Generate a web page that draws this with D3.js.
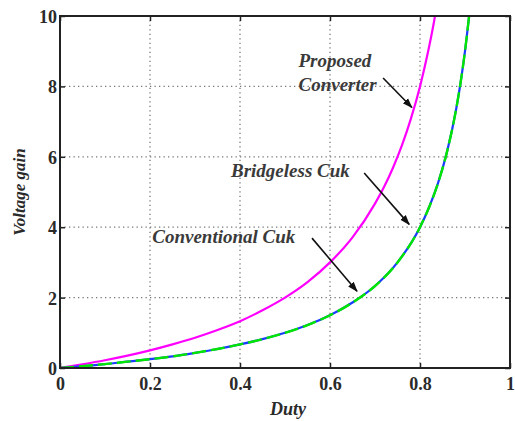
<!DOCTYPE html>
<html>
<head>
<meta charset="utf-8">
<script src="https://cdn.jsdelivr.net/npm/d3@7"></script>
</head>
<body style="margin:0; background:#fff">
<div id="chart"></div>
<script>

// Values
const duty      = [0, 0.05, 0.1, 0.15, 0.2, 0.25, 0.3, 0.35, 0.4, 0.45, 0.5, 0.55, 0.6, 0.65, 0.7, 0.72, 0.74, 0.76, 0.78, 0.8, 0.81, 0.82, 0.83, 0.84];
const proposed  = [0, 0.105, 0.22, 0.35, 0.5, 0.67, 0.86, 1.08, 1.33, 1.64, 2.0, 2.44, 3.0, 3.71, 4.67, 5.14, 5.69, 6.33, 7.09, 8.0, 8.53, 9.11, 9.76, 10.5];

const dutyCuk   = [0, 0.05, 0.1, 0.15, 0.2, 0.25, 0.3, 0.35, 0.4, 0.45, 0.5, 0.55, 0.6, 0.65, 0.7, 0.75, 0.8, 0.82, 0.84, 0.86, 0.88, 0.89, 0.9, 0.91];
const cuk       = [0, 0.053, 0.11, 0.18, 0.25, 0.33, 0.43, 0.54, 0.67, 0.82, 1.0, 1.22, 1.5, 1.86, 2.33, 3.0, 4.0, 4.56, 5.25, 6.14, 7.33, 8.09, 9.0, 10.1];

const xTicks = [0, 0.2, 0.4, 0.6, 0.8, 1];
const yTicks = [0, 2, 4, 6, 8, 10];

const notes = [
  { lines: ['Proposed', 'Converter'], x: 0.53, y: 8.55, from: [0.718, 8.24], to: [0.782, 7.4] },
  { lines: ['Bridgeless Cuk'], x: 0.38, y: 5.43, from: [0.676, 5.54], to: [0.776, 4.08] },
  { lines: ['Conventional Cuk'], x: 0.205, y: 3.55, from: [0.56, 3.69], to: [0.66, 2.18] }
];

const FONT = '"Liberation Serif", "Times New Roman", serif';

const W = 515, H = 421,
      margin = { top: 16, right: 5, bottom: 53, left: 60 };

const svg = d3.select('#chart').append('svg')
  .attr('width', W)
  .attr('height', H);

const x = d3.scaleLinear().domain([0, 1]).range([margin.left, W - margin.right]);
const y = d3.scaleLinear().domain([0, 10]).range([H - margin.bottom, margin.top]);

const defs = svg.append('defs');

defs.append('clipPath').attr('id', 'plot')
  .append('rect')
  .attr('x', x(0)).attr('y', y(10))
  .attr('width', x(1) - x(0)).attr('height', y(0) - y(10));

defs.append('marker')
  .attr('id', 'arrow')
  .attr('viewBox', '0 0 10 10')
  .attr('refX', 9).attr('refY', 5)
  .attr('markerWidth', 6.5).attr('markerHeight', 6.5)
  .attr('markerUnits', 'strokeWidth')
  .attr('orient', 'auto')
  .append('path').attr('d', 'M0,1.5 L10,5 L0,8.5 Z').attr('fill', '#111');

// grid
const grid = svg.append('g')
  .attr('stroke', '#777')
  .attr('stroke-width', 1.3)
  .attr('stroke-dasharray', '1.3,3.2');

xTicks.slice(1, -1).forEach((t) => {
  grid.append('line')
    .attr('x1', x(t)).attr('x2', x(t))
    .attr('y1', y(0)).attr('y2', y(10));
});
yTicks.slice(1, -1).forEach((t) => {
  grid.append('line')
    .attr('x1', x(0)).attr('x2', x(1))
    .attr('y1', y(t)).attr('y2', y(t));
});

// curves
const line = d3.line().curve(d3.curveMonotoneX);
const plot = svg.append('g').attr('clip-path', 'url(#plot)');

plot.append('path')
  .attr('d', line(duty.map((d, i) => [x(d), y(proposed[i])])))
  .attr('fill', 'none')
  .attr('stroke', '#ff00ff')
  .attr('stroke-width', 2.2);

const cukPath = line(dutyCuk.map((d, i) => [x(d), y(cuk[i])]));

plot.append('path')
  .attr('d', cukPath)
  .attr('fill', 'none')
  .attr('stroke', '#1a3cff')
  .attr('stroke-width', 2.2);

plot.append('path')
  .attr('d', cukPath)
  .attr('fill', 'none')
  .attr('stroke', '#00e600')
  .attr('stroke-width', 2.4)
  .attr('stroke-dasharray', '14,5');

// axes, ticks inside on all four sides
const tick = 5;

const gx = svg.append('g')
  .attr('transform', `translate(0,${y(0)})`)
  .call(d3.axisBottom(x).tickValues(xTicks).tickSizeInner(-tick).tickSizeOuter(0).tickFormat(d3.format('')));
gx.selectAll('text').attr('dy', '1.05em');

const gy = svg.append('g')
  .attr('transform', `translate(${x(0)},0)`)
  .call(d3.axisLeft(y).tickValues(yTicks).tickSizeInner(-tick).tickSizeOuter(0));
gy.selectAll('text').attr('x', -3).attr('dy', '0.36em');

[gx, gy].forEach((g) => {
  g.attr('font-family', null).attr('font-size', null);
  g.selectAll('text')
    .style('font-family', FONT)
    .style('font-weight', 'bold')
    .style('font-size', '18px')
    .attr('fill', '#2a2a2a');
});

const gTop = svg.append('g')
  .attr('transform', `translate(0,${y(10)})`)
  .call(d3.axisTop(x).tickValues(xTicks).tickSizeInner(-tick).tickSizeOuter(0));
gTop.selectAll('text').remove();

const gRight = svg.append('g')
  .attr('transform', `translate(${x(1)},0)`)
  .call(d3.axisRight(y).tickValues(yTicks).tickSizeInner(-tick).tickSizeOuter(0));
gRight.selectAll('text').remove();

[gx, gy, gTop, gRight].forEach((g) => {
  g.select('.domain').remove();
  g.selectAll('line').attr('stroke', '#222').attr('stroke-width', 1.5);
});

svg.append('rect')
  .attr('x', x(0)).attr('y', y(10))
  .attr('width', x(1) - x(0)).attr('height', y(0) - y(10))
  .attr('fill', 'none')
  .attr('stroke', '#222')
  .attr('stroke-width', 2);

// axis titles
const label = (sel, size) => sel
  .style('font-family', FONT)
  .style('font-weight', 'bold')
  .style('font-style', 'italic')
  .style('font-size', size)
  .attr('fill', '#2a2a2a');

svg.append('text')
  .attr('x', 288)
  .attr('y', 415)
  .attr('text-anchor', 'middle')
  .call(label, '18px')
  .text('Duty');

svg.append('text')
  .attr('transform', `translate(25,${(y(0) + y(10)) / 2}) rotate(-90)`)
  .attr('text-anchor', 'middle')
  .call(label, '17px')
  .text('Voltage gain');

// annotations
notes.forEach((n) => {
  const t = svg.append('text')
    .attr('x', x(n.x))
    .attr('y', y(n.y))
    .call(label, '19px')
    .attr('fill', '#3a3a3a');
  n.lines.forEach((s, i) => {
    t.append('tspan').attr('x', x(n.x)).attr('dy', i ? 24 : 0).text(s);
  });

  svg.append('line')
    .attr('x1', x(n.from[0])).attr('y1', y(n.from[1]))
    .attr('x2', x(n.to[0])).attr('y2', y(n.to[1]))
    .attr('stroke', '#111')
    .attr('stroke-width', 1.6)
    .attr('marker-end', 'url(#arrow)');
});

</script>
</body>
</html>
